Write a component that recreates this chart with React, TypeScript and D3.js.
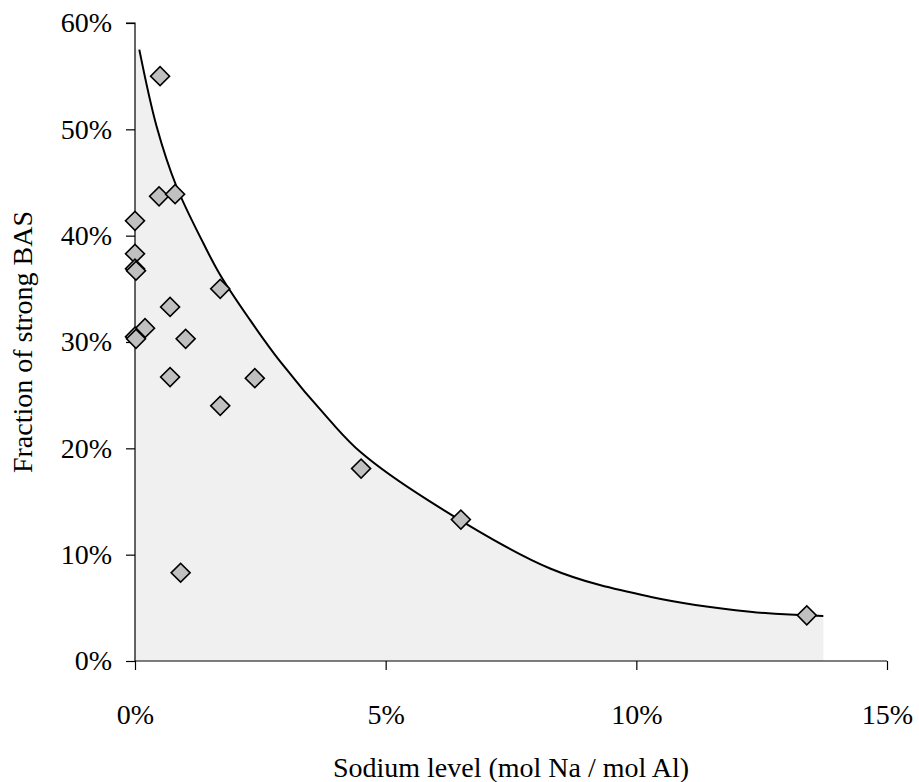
import * as d3 from 'd3'
import { useRef, useEffect } from 'react'

// measured samples (percent)
const naLevel = [0.5, 0.48, 0.8, 0, 0, 0, 0.02, 1.7, 0.7, 0.2, 0, 0.02, 1.01, 0.7, 2.39, 1.7, 0.91, 4.51, 6.5, 13.4]
const strongBas = [55.0, 43.7, 43.9, 41.4, 38.3, 36.9, 36.7, 35.0, 33.3, 31.3, 30.5, 30.3, 30.3, 26.7, 26.6, 24.0, 8.3, 18.1, 13.3, 4.3]

// trend curve (percent)
const trendX = [0.086, 0.43, 0.83, 1.33, 1.7, 2.29, 2.89, 3.89, 4.51, 5.85, 8.28, 10.27, 12.27, 13.73]
const trendY = [57.5, 50.3, 44.6, 39.6, 36.3, 32.1, 28.2, 22.6, 19.6, 15.1, 8.7, 6.05, 4.64, 4.23]

const xTicks = [0, 5, 10, 15]
const yTicks = [0, 10, 20, 30, 40, 50, 60]

const App = () => {
  const svgRef = useRef(null)

  const width = 919
  const height = 782
  const left = 135
  const right = 887
  const top = 23
  const bottom = 661
  const font = '"Liberation Serif", "Times New Roman", serif'

  useEffect(() => {
    const svg = d3.select(svgRef.current)
    svg.selectAll('*').remove() // clear

    const x = d3.scaleLinear().domain([0, 15]).range([left, right])
    const y = d3.scaleLinear().domain([0, 60]).range([bottom, top])

    const trend = trendX.map((v, i) => ({ x: v, y: trendY[i] }))
    const curve = d3.curveCatmullRom.alpha(0.5)

    // shaded area under the trend
    const areaGen = d3
      .area()
      .x(d => x(d.x))
      .y0(y(0))
      .y1(d => y(d.y))
      .curve(curve)
    svg
      .append('path')
      .attr('fill', '#f0f0f0')
      .attr('d', `M${left},${y(0)}V${y(trendY[0])}H${x(trendX[0]) + 0.5}V${y(0)}Z`)
    svg.append('path').datum(trend).attr('fill', '#f0f0f0').attr('d', areaGen)

    // axes
    const yAxis = svg.append('g').attr('transform', `translate(${left},0)`).call(
      d3
        .axisLeft(y)
        .tickValues(yTicks)
        .tickSize(9)
        .tickPadding(14)
        .tickFormat(d => `${d}%`)
    )
    const xAxis = svg.append('g').attr('transform', `translate(0,${bottom})`).call(
      d3
        .axisBottom(x)
        .tickValues(xTicks)
        .tickSize(9)
        .tickPadding(34)
        .tickFormat(d => `${d}%`)
    )
    ;[xAxis, yAxis].forEach(g => {
      g.select('.domain').attr('stroke', '#000').attr('stroke-width', 1.2)
      g.selectAll('.tick line').attr('stroke', '#000').attr('stroke-width', 1.2)
      g.selectAll('.tick text').attr('font-family', font).attr('font-size', 28).attr('fill', '#000')
    })
    yAxis.select('.domain').attr('d', `M-9,${top}H0V${bottom}`)
    xAxis.select('.domain').attr('d', `M${left},0H${right}`)

    // trend line
    svg
      .append('path')
      .datum(trend)
      .attr('fill', 'none')
      .attr('stroke', '#000')
      .attr('stroke-width', 2)
      .attr(
        'd',
        d3
          .line()
          .x(d => x(d.x))
          .y(d => y(d.y))
          .curve(curve)
      )

    // markers
    const diamond = d3.symbol(d3.symbolSquare, 180)
    svg
      .append('g')
      .selectAll('path')
      .data(naLevel.map((v, i) => ({ x: v, y: strongBas[i] })))
      .enter()
      .append('path')
      .attr('d', diamond)
      .attr('transform', d => `translate(${x(d.x)},${y(d.y)}) rotate(45)`)
      .attr('fill', '#c0c0c0')
      .attr('stroke', '#000')
      .attr('stroke-width', 1.6)

    // titles
    svg
      .append('text')
      .attr('x', (left + right) / 2)
      .attr('y', 777)
      .attr('text-anchor', 'middle')
      .attr('font-family', font)
      .attr('font-size', 28)
      .text('Sodium level (mol Na / mol Al)')

    svg
      .append('text')
      .attr('transform', `translate(32,${(top + bottom) / 2}) rotate(-90)`)
      .attr('text-anchor', 'middle')
      .attr('font-family', font)
      .attr('font-size', 28)
      .text('Fraction of strong BAS')
  }, [])

  return (
    <svg
      ref={svgRef}
      width={width}
      height={height}
      style={{ position: 'absolute', left: 0, top: 0, background: '#fff' }}
    ></svg>
  )
}

export default App
